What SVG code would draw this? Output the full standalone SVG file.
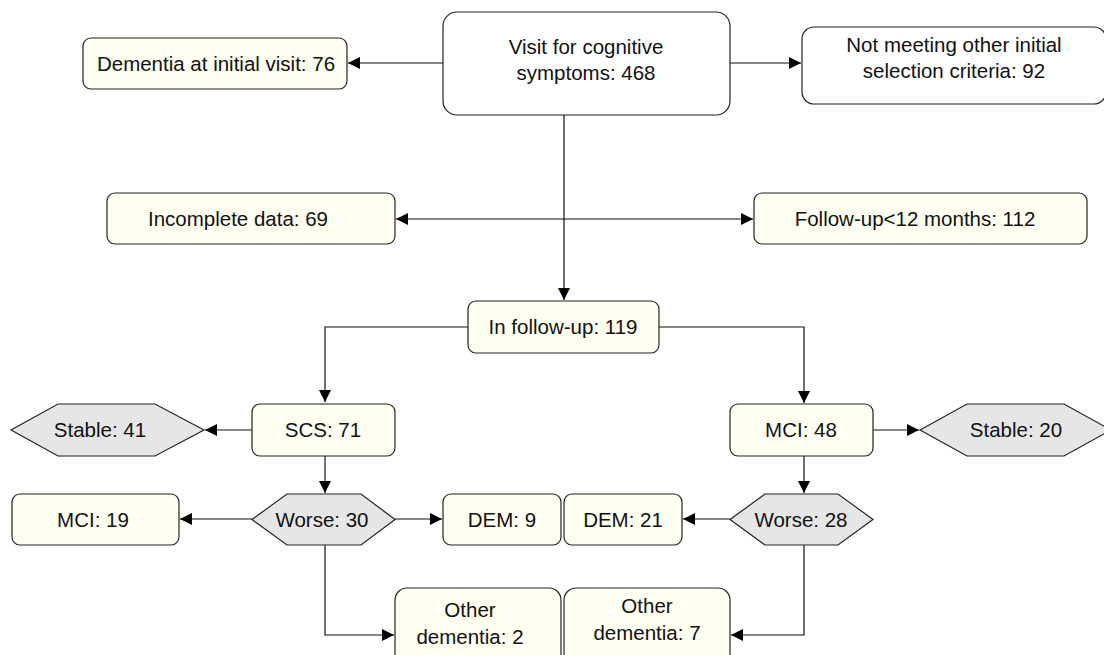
<svg xmlns="http://www.w3.org/2000/svg" width="1104" height="655" viewBox="0 0 1104 655">
<defs>
<style>
.box{fill:#fffff2;stroke:#222;stroke-width:1.2}
.wbox{fill:#ffffff;stroke:#222;stroke-width:1.2}
.hex{fill:#e6e6e6;stroke:#222;stroke-width:1.2}
.t{font-family:"Liberation Sans",Arial,sans-serif;font-size:20.5px;fill:#111;text-anchor:middle}
.c{fill:none;stroke:#111;stroke-width:1.2}
</style>
<marker id="ah" viewBox="0 0 10 10" refX="10" refY="5" markerWidth="12" markerHeight="12" markerUnits="userSpaceOnUse" orient="auto-start-reverse">
<path d="M0,0 L10,5 L0,10 z" fill="#000"/>
</marker>
</defs>
<rect width="1104" height="655" fill="#fff"/>
<g id="connectors">
<path class="c" d="M443,63 H348" marker-end="url(#ah)"/>
<path class="c" d="M730,63 H801" marker-end="url(#ah)"/>
<path class="c" d="M396,219 H753" marker-start="url(#ah)" marker-end="url(#ah)"/>
<path class="c" d="M564,115 V300" marker-end="url(#ah)"/>
<path class="c" d="M468,327 H325 V402" marker-end="url(#ah)"/>
<path class="c" d="M659,327 H804 V403" marker-end="url(#ah)"/>
<path class="c" d="M252,430 H205" marker-end="url(#ah)"/>
<path class="c" d="M873,430 H919" marker-end="url(#ah)"/>
<path class="c" d="M325,456 V493" marker-end="url(#ah)"/>
<path class="c" d="M804,456 V493" marker-end="url(#ah)"/>
<path class="c" d="M252,519 H180" marker-end="url(#ah)"/>
<path class="c" d="M395,519 H442" marker-end="url(#ah)"/>
<path class="c" d="M730,519 H683" marker-end="url(#ah)"/>
<path class="c" d="M325,545 V635 H394" marker-end="url(#ah)"/>
<path class="c" d="M804,545 V635 H731" marker-end="url(#ah)"/>
</g>
<g id="visit">
<rect class="wbox" x="443" y="12" width="287" height="103" rx="14"/>
<text class="t" x="586" y="54">Visit for cognitive</text>
<text class="t" x="586" y="80">symptoms: 468</text>
</g>
<g id="dementia-initial">
<rect class="box" x="83" y="38" width="264" height="51" rx="8"/>
<text class="t" x="216" y="71">Dementia at initial visit: 76</text>
</g>
<g id="not-meeting">
<rect class="wbox" x="802" y="27" width="304" height="77" rx="12"/>
<text class="t" x="954" y="52">Not meeting other initial</text>
<text class="t" x="954" y="78">selection criteria: 92</text>
</g>
<g id="incomplete">
<rect class="box" x="107" y="193" width="288" height="51" rx="8"/>
<text class="t" x="238" y="226">Incomplete data: 69</text>
</g>
<g id="followup-short">
<rect class="box" x="754" y="193" width="333" height="51" rx="8"/>
<text class="t" x="915" y="226">Follow-up&lt;12 months: 112</text>
</g>
<g id="in-followup">
<rect class="box" x="468" y="301" width="191" height="52" rx="8"/>
<text class="t" x="563" y="334">In follow-up: 119</text>
</g>
<g id="scs">
<rect class="box" x="252" y="404" width="143" height="52" rx="8"/>
<text class="t" x="323" y="437">SCS: 71</text>
</g>
<g id="stable41">
<polygon class="hex" points="11,430 58,404 155,404 204,430 155,456 58,456"/>
<text class="t" x="100" y="437">Stable: 41</text>
</g>
<g id="mci48">
<rect class="box" x="730" y="404" width="143" height="52" rx="8"/>
<text class="t" x="801" y="437">MCI: 48</text>
</g>
<g id="stable20">
<polygon class="hex" points="920,430 967,404 1064,404 1111,430 1064,456 967,456"/>
<text class="t" x="1016" y="437">Stable: 20</text>
</g>
<g id="mci19">
<rect class="box" x="12" y="494" width="167" height="51" rx="8"/>
<text class="t" x="93" y="527">MCI: 19</text>
</g>
<g id="worse30">
<polygon class="hex" points="252,519.5 287,494 361,494 395,519.5 361,545 287,545"/>
<text class="t" x="322" y="527">Worse: 30</text>
</g>
<g id="dem9">
<rect class="box" x="443" y="494" width="118" height="51" rx="8"/>
<text class="t" x="502" y="527">DEM: 9</text>
</g>
<g id="dem21">
<rect class="box" x="564" y="494" width="118" height="51" rx="8"/>
<text class="t" x="623" y="527">DEM: 21</text>
</g>
<g id="worse28">
<polygon class="hex" points="730,519.5 765,494 838,494 873,519.5 838,545 765,545"/>
<text class="t" x="801" y="527">Worse: 28</text>
</g>
<g id="other2">
<rect class="box" x="395" y="588" width="166" height="80" rx="12"/>
<text class="t" x="470" y="617">Other</text>
<text class="t" x="470" y="644">dementia: 2</text>
</g>
<g id="other7">
<rect class="box" x="564" y="588" width="166" height="80" rx="12"/>
<text class="t" x="647" y="613">Other</text>
<text class="t" x="647" y="640">dementia: 7</text>
</g>
</svg>
